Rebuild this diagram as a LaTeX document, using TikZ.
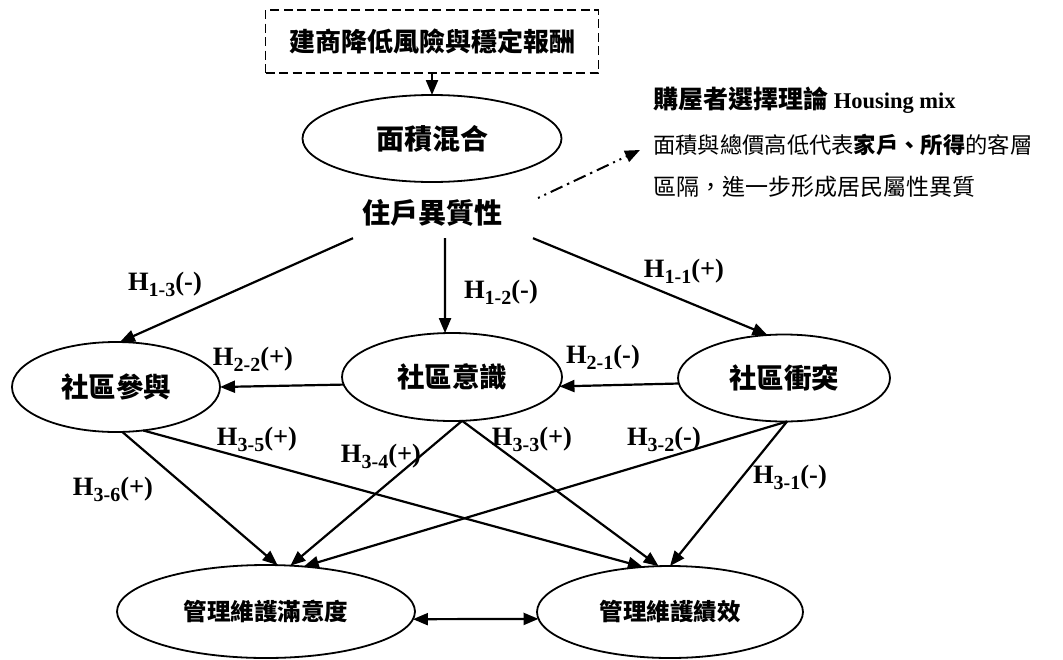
\documentclass[tikz,border=0pt]{standalone}
\usepackage{fontspec}
\setmainfont{Liberation Serif}
\newfontfamily\cjk{Noto Sans CJK TC}
\usetikzlibrary{arrows.meta,shapes.geometric}
\newcommand\fs[1]{\fontsize{#1}{#1}\selectfont}
\newcommand\hlab[2]{H\raisebox{-6pt}{\fs{20}#1}#2}
\begin{document}
\begin{tikzpicture}[x=1pt,y=-1pt,
  ell/.style={draw,ellipse,line width=1.8pt,inner sep=0pt,outer sep=0pt},
  arr/.style={line width=2.2pt,-{Triangle[length=15pt,width=12pt]}},
  dbl/.style={line width=2.2pt,{Triangle[length=15pt,width=12pt]}-{Triangle[length=15pt,width=12pt]}},
  lab/.style={anchor=base,inner sep=0pt,font=\bfseries\fs{26.5}},
  cjkb/.style={font=\cjk\bfseries\fs{#1}},
]
\useasboundingbox (0,0) rectangle (1063,659);

% top box and ellipse
\node[draw,dash pattern=on 9pt off 4.5pt,line width=1.6pt,rectangle,minimum width=333pt,minimum height=63pt,inner sep=0pt,cjkb=26] (box) at (432,41.5) {建商降低風險與穩定報酬};
\node[ell,minimum width=259pt,minimum height=87pt,cjkb=28] (mix) at (432,138.5) {面積混合};
\node[inner sep=0pt,minimum height=50pt,cjkb=28] (het) at (432,213) {住戶異質性};

% right-hand text
\node[anchor=west,inner sep=0pt,font=\bfseries\fs{22.5}] (t1) at (653,100) {{\cjk\fs{25}購屋者選擇理論} Housing mix};
\node[anchor=west,inner sep=0pt,font=\cjk\fs{22.3}] (t2) at (653,145) {面積與總價高低代表{\bfseries 家戶、所得}的客層};
\node[anchor=west,inner sep=0pt,font=\cjk\fs{23}] (t3) at (653,187) {區隔，進一步形成居民屬性異質};
\coordinate (dd1) at (538,198);
\coordinate (dd2) at (640,150);

% middle row
\node[ell,minimum width=208pt,minimum height=90pt,cjkb=27.5] (par) at (116,387) {社區參與};
\node[ell,minimum width=220pt,minimum height=88pt,cjkb=27.5] (awa) at (452,377) {社區意識};
\node[ell,minimum width=212pt,minimum height=87pt,cjkb=27.5] (con) at (784,378) {社區衝突};

% bottom row
\node[ell,minimum width=298pt,minimum height=93pt,cjkb=23.5] (sat) at (266,611.5) {管理維護滿意度};
\node[ell,minimum width=266pt,minimum height=92pt,cjkb=23.5] (per) at (670,612) {管理維護績效};

% connectors
\draw[arr] (box.south) -- (mix.north);
\draw[line width=2pt,dash pattern=on 2pt off 5pt on 2pt off 5pt on 13pt off 5pt on 2.5pt off 5pt on 13pt off 5pt on 2.5pt off 5pt on 13pt off 5pt,-{Triangle[length=15pt,width=12pt]}] (dd1) -- (dd2);

\draw[arr] ([xshift=-79pt]het.south) -- (par.85);
\draw[arr] ([xshift=13pt]het.south) -- (awa.99);
\draw[arr] ([xshift=101pt]het.south) -- (con.111.6);

\draw[arr] (awa.184.8) -- (par.east);
\draw[arr] (con.183.8) -- (awa.355.8);

\draw[arr] (par.-82) -- (sat.76.6);
\draw[arr] (par.-58) -- (per.121);
\draw[arr] (awa.-77.1) -- (sat.62.4);
\draw[arr] (awa.-77.1) -- (per.104.7);
\draw[arr] (con.-86) -- (sat.50.6);
\draw[arr] (con.-86) -- (per.90);

\draw[dbl] (sat.-3.5) -- (per.183.9);

% labels
\node[lab] (l13) at (165,290) {\hlab{1-3}{(-)}};
\node[lab] (l12) at (501,298) {\hlab{1-2}{(-)}};
\node[lab] (l11) at (684,277) {\hlab{1-1}{(+)}};
\node[lab] (l22) at (253,365) {\hlab{2-2}{(+)}};
\node[lab] (l21) at (603,363) {\hlab{2-1}{(-)}};
\node[lab] (l35) at (257,445) {\hlab{3-5}{(+)}};
\node[lab] (l34) at (381,462) {\hlab{3-4}{(+)}};
\node[lab] (l36) at (113,495) {\hlab{3-6}{(+)}};
\node[lab] (l33) at (532,445) {\hlab{3-3}{(+)}};
\node[lab] (l32) at (664,445) {\hlab{3-2}{(-)}};
\node[lab] (l31) at (790,483) {\hlab{3-1}{(-)}};
\end{tikzpicture}
\end{document}
